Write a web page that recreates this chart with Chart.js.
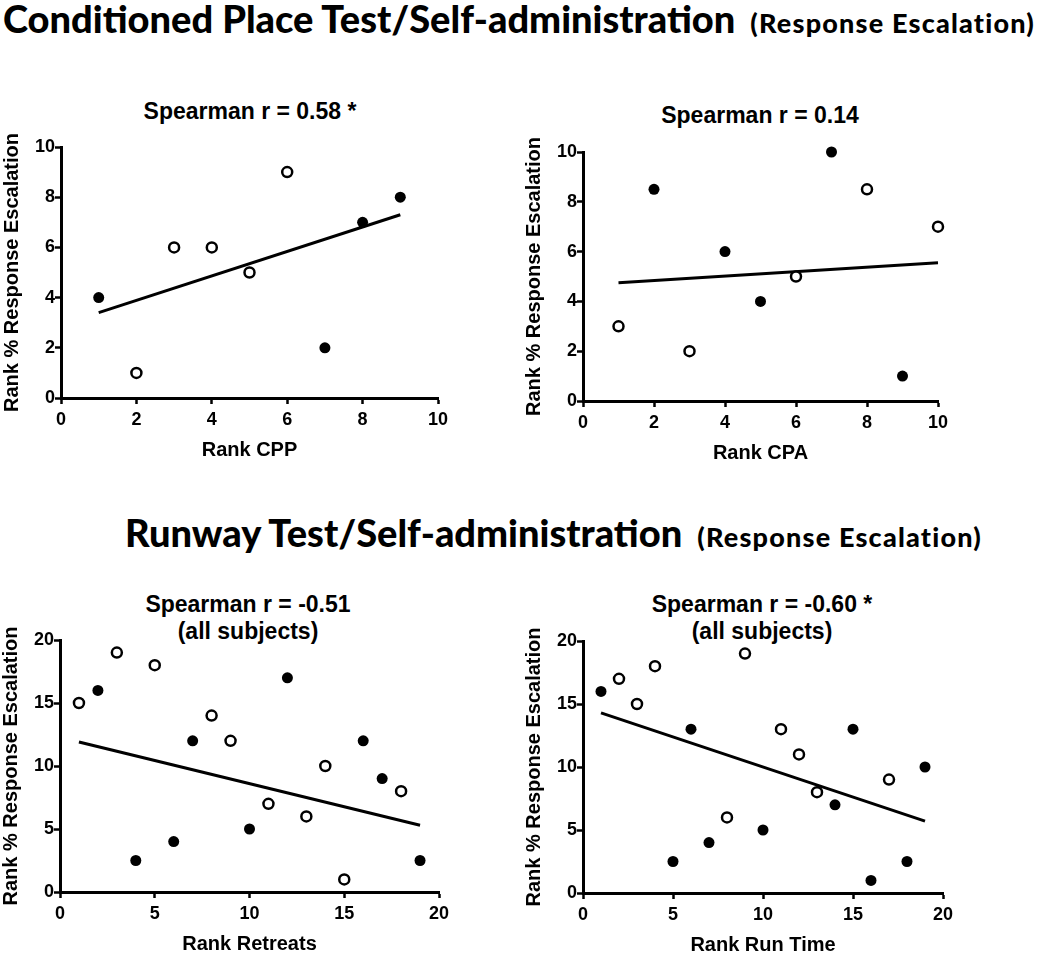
<!DOCTYPE html>
<html>
<head>
<meta charset="utf-8">
<script src="https://cdn.jsdelivr.net/npm/chart.js@4.4.1/dist/chart.umd.min.js"></script>
<style>
  body { margin: 0; background: #fff; }
  #page { position: relative; width: 1050px; height: 957px; overflow: hidden;
          font-family: "Liberation Sans", Arial, sans-serif; color: #000; }
  .head { position: absolute; white-space: nowrap; font-family: Lato, "Open Sans", sans-serif;
          font-weight: 900; font-size: 38px; line-height: 40px; }
  .head small { font-size: 27px; font-weight: 900; letter-spacing: 1.2px; margin-left: 6px; }
  .ptitle { position: absolute; font-weight: bold; font-size: 23px; line-height: 27px;
            text-align: center; white-space: nowrap; transform: translateX(-50%); }
  canvas { position: absolute; }
</style>
</head>
<body>
<div id="page">
  <div class="head" style="left:3px; top:-2px;">Conditioned Place Test/Self-administration <small>(Response Escalation)</small></div>
  <div class="head" style="left:125px; top:512px;">Runway Test/Self-administration <small>(Response Escalation)</small></div>

  <div class="ptitle" style="left:250px; top:98px;">Spearman r = 0.58 *</div>
  <div class="ptitle" style="left:760px; top:102px;">Spearman r = 0.14</div>
  <div class="ptitle" style="left:248px; top:591px;">Spearman r = -0.51<br>(all subjects)</div>
  <div class="ptitle" style="left:762px; top:591px;">Spearman r = -0.60 *<br>(all subjects)</div>

  <canvas id="cpp"      width="454" height="331" style="left:0px;   top:133px;"></canvas>
  <canvas id="cpa"      width="432" height="329" style="left:522px; top:138px;"></canvas>
  <canvas id="retreats" width="456" height="332" style="left:-1px;  top:626px;"></canvas>
  <canvas id="runtime"  width="437" height="332" style="left:522px; top:627px;"></canvas>
</div>

<script>
/* ── DATA (ranks) ─────────────────────────────── */
// Rank CPP vs rank % response escalation
const cppFilledX = [1, 7, 8, 9];
const cppFilledY = [4, 2, 7, 8];
const cppOpenX   = [2, 3, 4, 5, 6];
const cppOpenY   = [1, 6, 6, 5, 9];
const cppFitX    = [1, 9];
const cppFitY    = [3.4, 7.3];

// Rank CPA
const cpaFilledX = [2, 4, 5, 7, 9];
const cpaFilledY = [8.5, 6, 4, 10, 1];
const cpaOpenX   = [1, 3, 6, 8, 10];
const cpaOpenY   = [3, 2, 5, 8.5, 7];
const cpaFitX    = [1, 10];
const cpaFitY    = [4.75, 5.55];

// Rank retreats (runway)
const retFilledX = [2, 4, 6, 7, 10, 12, 16, 17, 19];
const retFilledY = [16, 2.5, 4, 12, 5, 17, 12, 9, 2.5];
const retOpenX   = [1, 3, 5, 8, 9, 11, 13, 14, 15, 18];
const retOpenY   = [15, 19, 18, 14, 12, 7, 6, 10, 1, 8];
const retFitX    = [1, 19];
const retFitY    = [11.9, 5.3];

// Rank run time (runway)
const runFilledX = [1, 5, 6, 7, 10, 14, 15, 16, 18, 19];
const runFilledY = [16, 2.5, 13, 4, 5, 7, 13, 1, 2.5, 10];
const runOpenX   = [2, 3, 4, 8, 9, 11, 12, 13, 17];
const runOpenY   = [17, 15, 18, 6, 19, 13, 11, 8, 9];
const runFitX    = [1, 19];
const runFitY    = [14.3, 5.7];

const yLabel = 'Rank % Response Escalation';

function pts(xs, ys) { return xs.map((x, i) => ({ x, y: ys[i] })); }

const FONT = '"Liberation Sans", Arial, sans-serif';

function axis(max, step, title, isX) {
  return {
    type: 'linear', min: 0, max: max,
    border: { display: true, color: '#000', width: 3 },
    grid: { display: true, drawOnChartArea: false, drawTicks: true,
            tickLength: 6, tickColor: '#000', tickWidth: 2.5 },
    ticks: { stepSize: step, color: '#000', padding: isX ? 5 : 0,
             font: { family: FONT, size: 18, weight: 'bold' } },
    title: { display: true, text: title, color: '#000',
             padding: isX ? { top: 0, bottom: 2 } : { top: 0, bottom: 0 },
             font: { family: FONT, size: 20, weight: 'bold' } },
    afterFit: s => { if (isX) s.height = 66; else s.width = 61; }
  };
}

function makePanel(id, d) {
  new Chart(document.getElementById(id), {
    type: 'scatter',
    data: {
      datasets: [
        { data: pts(d.fx, d.fy), backgroundColor: '#000', borderColor: '#000',
          borderWidth: 0, pointRadius: 5.5, order: 1, clip: false },
        { data: pts(d.ox, d.oy), backgroundColor: '#fff', borderColor: '#000',
          borderWidth: 2.5, pointRadius: 5, order: 1, clip: false },
        { data: pts(d.lx, d.ly), showLine: true, borderColor: '#000',
          borderWidth: 3, pointRadius: 0, order: 2, clip: false }
      ]
    },
    options: {
      responsive: false, animation: false,
      layout: { padding: { top: 14, right: 16, bottom: 0, left: 0 } },
      plugins: { legend: { display: false }, tooltip: { enabled: false } },
      scales: {
        x: axis(d.xmax, d.xstep, d.xtitle, true),
        y: axis(d.ymax, d.ystep, yLabel, false)
      }
    }
  });
}

makePanel('cpp', { fx: cppFilledX, fy: cppFilledY, ox: cppOpenX, oy: cppOpenY,
  lx: cppFitX, ly: cppFitY, xmax: 10, xstep: 2, ymax: 10, ystep: 2, xtitle: 'Rank CPP' });
makePanel('cpa', { fx: cpaFilledX, fy: cpaFilledY, ox: cpaOpenX, oy: cpaOpenY,
  lx: cpaFitX, ly: cpaFitY, xmax: 10, xstep: 2, ymax: 10, ystep: 2, xtitle: 'Rank CPA' });
makePanel('retreats', { fx: retFilledX, fy: retFilledY, ox: retOpenX, oy: retOpenY,
  lx: retFitX, ly: retFitY, xmax: 20, xstep: 5, ymax: 20, ystep: 5, xtitle: 'Rank Retreats' });
makePanel('runtime', { fx: runFilledX, fy: runFilledY, ox: runOpenX, oy: runOpenY,
  lx: runFitX, ly: runFitY, xmax: 20, xstep: 5, ymax: 20, ystep: 5, xtitle: 'Rank Run Time' });
</script>
</body>
</html>
